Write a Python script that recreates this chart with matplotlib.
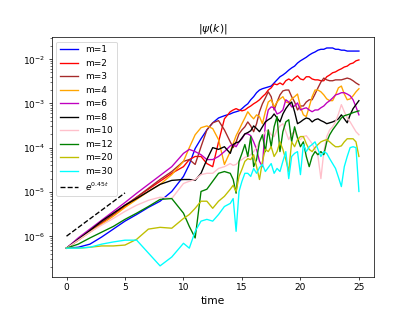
import numpy as np
import matplotlib
matplotlib.use("Agg")
import matplotlib.pyplot as plt

# output times: coarse early, finer later
time = np.concatenate([np.arange(0, 10.1, 1.0),
                       np.arange(10.5, 14.01, 0.5),
                       np.arange(14.25, 25.01, 0.25)])

# log10 |psi(k)| for each mode
m1 = [-6.27, -6.25, -6.18, -6.02, -5.84, -5.66, -5.51, -5.35, -5.21, -4.99, -4.65,
      -4.38, -4.02, -3.80, -3.60, -3.44, -3.33, -3.28, -3.24,
      -3.21, -3.19, -3.17, -3.12, -3.06, -3.01, -2.92, -2.85, -2.76, -2.70, -2.67, -2.65,
      -2.63, -2.61, -2.54, -2.47, -2.40, -2.36, -2.31, -2.25, -2.20, -2.16, -2.09, -2.04,
      -2.00, -1.96, -1.91, -1.87, -1.84, -1.80, -1.78, -1.78, -1.75, -1.75, -1.75, -1.78,
      -1.78, -1.80, -1.80, -1.82, -1.82, -1.82, -1.82, -1.82]
m2 = [-6.27, -6.09, -5.89, -5.71, -5.51, -5.33, -5.12, -4.94, -4.76, -4.58, -4.43,
      -4.27, -4.20, -4.20, -4.36, -4.43, -3.87, -3.35, -3.19,
      -3.15, -3.12, -3.15, -3.17, -3.15, -3.10, -3.06, -3.01, -2.97, -2.92, -2.85, -2.79,
      -2.70, -2.65, -2.56, -2.58, -2.54, -2.58, -2.49, -2.45, -2.49, -2.43, -2.38, -2.45,
      -2.47, -2.40, -2.40, -2.45, -2.47, -2.47, -2.49, -2.49, -2.40, -2.36, -2.31, -2.29,
      -2.25, -2.22, -2.18, -2.16, -2.11, -2.09, -2.04, -2.02]
m3 = [-6.27, -6.07, -5.89, -5.69, -5.51, -5.30, -5.12, -4.92, -4.72, -4.54, -4.31,
      -4.27, -4.38, -3.98, -3.60, -3.44, -3.39, -3.60, -3.87,
      -4.00, -3.87, -3.69, -3.60, -3.53, -3.42, -3.51, -3.64, -3.46, -3.19, -3.01, -2.88,
      -2.74, -2.85, -3.15, -2.97, -2.81, -2.72, -2.70, -2.70, -2.85, -2.97, -3.15, -3.06,
      -3.06, -2.97, -2.92, -2.92, -2.79, -2.65, -2.52, -2.43, -2.47, -2.49, -2.49, -2.47,
      -2.47, -2.47, -2.45, -2.43, -2.45, -2.49, -2.54, -2.58]
m4 = [-6.27, -6.09, -5.91, -5.73, -5.55, -5.35, -5.17, -4.99, -4.83, -4.61, -4.31,
      -4.00, -3.71, -3.55, -3.51, -3.57, -3.82, -4.38, -4.09,
      -3.91, -3.73, -3.60, -3.46, -3.33, -3.19, -3.28, -3.35, -3.26, -3.30, -3.46, -3.19,
      -2.97, -2.92, -3.08, -2.97, -2.90, -2.85, -2.97, -2.99, -2.90, -2.85, -2.79, -3.08,
      -3.26, -3.30, -3.08, -2.85, -2.70, -2.70, -2.74, -2.81, -2.90, -2.94, -2.94, -2.81,
      -2.65, -2.61, -2.79, -2.92, -2.90, -2.83, -2.74, -2.67]
m6 = [-6.27, -6.04, -5.84, -5.64, -5.44, -5.24, -5.03, -4.83, -4.63, -4.43, -4.13,
      -4.04, -4.09, -4.16, -4.27, -4.27, -4.20, -4.09, -3.96,
      -3.93, -3.98, -3.87, -3.80, -3.69, -3.69, -3.73, -3.87, -4.04, -4.31, -4.43, -3.46,
      -3.15, -3.08, -3.10, -3.24, -3.21, -3.15, -2.92, -2.97, -3.08, -3.06, -2.99, -3.15,
      -3.12, -3.10, -3.15, -3.19, -3.15, -3.15, -3.10, -3.06, -2.99, -2.94, -2.88, -2.81,
      -2.79, -2.76, -2.76, -2.79, -2.83, -2.92, -3.08, -3.26]
m8 = [-6.27, -6.07, -5.87, -5.66, -5.48, -5.30, -5.15, -4.99, -4.83, -4.74, -4.72,
      -4.72, -4.74, -4.58, -4.27, -4.00, -4.04, -3.98, -4.13,
      -3.93, -3.89, -3.87, -3.78, -3.69, -3.66, -3.62, -3.51, -3.57, -3.64, -3.53, -3.42,
      -3.37, -3.33, -3.24, -3.33, -3.42, -3.24, -3.12, -3.03, -2.97, -3.19, -3.46, -3.42,
      -3.37, -3.33, -3.35, -3.42, -3.37, -3.35, -3.39, -3.42, -3.46, -3.44, -3.42, -3.39,
      -3.35, -3.26, -3.35, -3.44, -3.26, -3.12, -3.03, -2.94]
m10 = [-6.27, -6.09, -5.91, -5.75, -5.60, -5.44, -5.30, -5.19, -5.12, -5.15, -4.81,
       -4.76, -4.72, -4.61, -4.58, -4.58, -4.47, -4.43, -4.36,
       -4.40, -4.38, -4.31, -4.27, -4.22, -4.20, -4.16, -4.09, -4.00, -3.87, -3.75, -3.64,
       -3.60, -3.71, -3.75, -3.60, -3.51, -3.46, -3.64, -3.82, -3.69, -3.64, -3.78, -3.82,
       -3.75, -3.73, -3.82, -3.91, -4.04, -4.20, -4.70, -4.09, -3.75, -3.60, -3.53, -3.42,
       -3.24, -3.03, -3.19, -3.33, -3.42, -3.53, -3.64, -3.71]
m12 = [-6.27, -6.18, -6.04, -5.91, -5.78, -5.62, -5.48, -5.33, -5.17, -5.15, -5.48,
       -5.78, -6.04, -4.99, -4.94, -4.76, -4.58, -4.54, -4.58,
       -4.72, -5.03, -4.31, -4.13, -3.93, -4.20, -3.75, -4.43, -4.27, -3.87, -3.71, -4.09,
       -3.60, -3.98, -3.53, -3.30, -4.09, -3.64, -3.42, -3.37, -3.87, -3.53, -3.78, -3.98,
       -3.87, -4.20, -4.43, -4.20, -4.09, -4.16, -4.09, -4.16, -3.87, -3.71, -3.60, -3.51,
       -3.42, -3.33, -3.28, -3.26, -3.24, -3.21, -3.19, -3.17]
m20 = [-6.27, -6.27, -6.25, -6.22, -6.22, -6.20, -6.07, -5.84, -5.80, -5.82, -5.60,
       -5.51, -5.37, -5.21, -5.21, -5.37, -5.21, -5.10, -4.94,
       -4.85, -4.99, -4.65, -4.49, -4.31, -4.25, -4.27, -4.16, -4.43, -4.72, -4.31, -4.04,
       -4.09, -3.98, -4.20, -4.09, -3.87, -4.04, -4.27, -4.54, -3.87, -3.98, -3.82, -3.75,
       -3.75, -3.91, -4.04, -4.09, -4.00, -3.93, -3.87, -3.84, -3.82, -3.87, -3.93, -3.98,
       -3.98, -3.96, -3.87, -3.80, -3.80, -3.80, -3.87, -4.20]
m30 = [-6.27, -6.27, -6.25, -6.18, -6.13, -6.09, -6.09, -6.38, -6.67, -6.47, -6.16,
       -6.27, -5.89, -5.66, -5.62, -5.66, -5.51, -5.33, -5.26,
       -5.15, -5.89, -4.99, -4.76, -4.58, -4.58, -4.65, -4.47, -4.58, -4.45, -4.38, -4.54,
       -4.45, -4.36, -4.58, -4.47, -4.54, -4.31, -4.09, -4.70, -4.20, -4.13, -4.09, -4.61,
       -3.93, -4.09, -3.98, -3.93, -3.87, -4.04, -4.20, -4.09, -4.13, -4.25, -4.36, -4.47,
       -4.67, -4.88, -4.43, -4.20, -4.00, -3.98, -4.00, -4.99]

modes = [1, 2, 3, 4, 6, 8, 10, 12, 20, 30]
series = [m1, m2, m3, m4, m6, m8, m10, m12, m20, m30]
colors = ['b', 'r', 'brown', 'orange', 'm', 'k', 'pink', 'g', 'y', 'cyan']

# reference growth rate line
ref_t = [0, 5]
ref_val = [1.0e-6, 9.5e-6]

fig = plt.figure(figsize=(6.4, 4.8), dpi=64.85)
ax = fig.add_subplot(111)

for m, s, c in zip(modes, series, colors):
    ax.plot(time, np.power(10.0, s), color=c, label=f"m={m}")
ax.plot(ref_t, ref_val, 'k--', label=r'$e^{0.45t}$')

ax.set_yscale('log')
ax.set_title(r'$|\psi(k)|$')
ax.set_xlabel('time', fontsize=12)
ax.legend(loc='upper left')

fig.savefig("out.png", dpi=64.85)
